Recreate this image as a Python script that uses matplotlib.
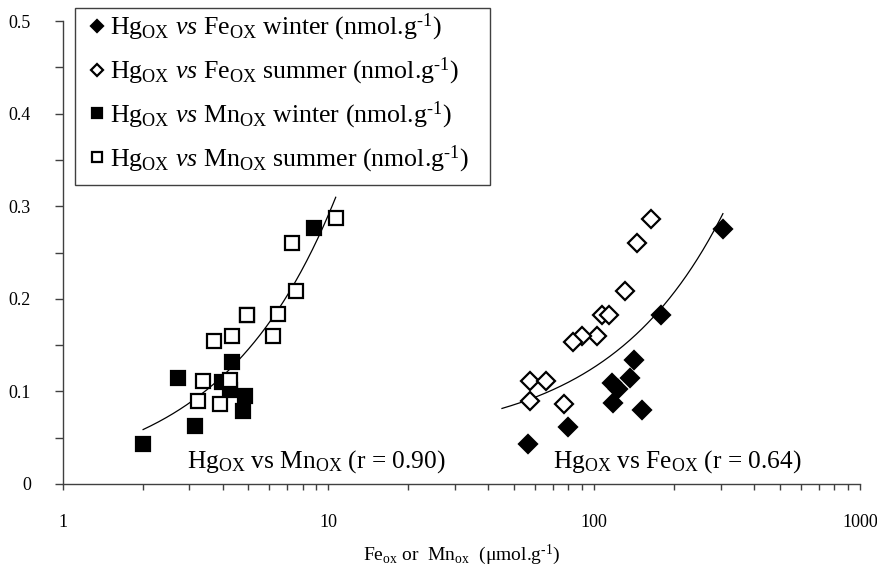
import numpy as np
import matplotlib
matplotlib.use("Agg")
import matplotlib.pyplot as plt
from matplotlib.patches import Rectangle
from matplotlib.ticker import FixedLocator, FixedFormatter, NullFormatter

plt.rcParams['font.family'] = ['Liberation Serif', 'DejaVu Serif']
plt.rcParams['mathtext.fontset'] = 'custom'
plt.rcParams['mathtext.rm'] = 'Liberation Serif'
plt.rcParams['mathtext.it'] = 'Liberation Serif:italic'
plt.rcParams['mathtext.bf'] = 'Liberation Serif:bold'

# Oxalate-extractable Fe (umol/g) and Hg (nmol/g)
fe_winter_x = [304.7, 178.5, 141.6, 136.5, 116.5, 123.0, 118.1, 151.0, 80.0, 56.6]
fe_winter_hg = [0.275, 0.182, 0.134, 0.114, 0.109, 0.103, 0.088, 0.080, 0.062, 0.043]

fe_summer_x = [163.3, 145.4, 131.1, 106.8, 114.1, 102.3, 89.8, 83.1, 57.4, 65.9, 57.4, 77.0]
fe_summer_hg = [0.286, 0.260, 0.208, 0.183, 0.183, 0.160, 0.160, 0.153, 0.111, 0.111, 0.090, 0.086]

# Oxalate-extractable Mn (umol/g) and Hg (nmol/g)
mn_winter_x = [2.01, 3.15, 2.73, 4.33, 3.97, 4.27, 4.86, 4.79, 8.86, 4.93]
mn_winter_hg = [0.043, 0.063, 0.115, 0.132, 0.110, 0.101, 0.095, 0.079, 0.276, 0.182]

mn_summer_x = [10.66, 7.28, 7.54, 6.49, 4.93, 6.21, 4.33, 3.73, 3.39, 4.27, 3.24, 3.91]
mn_summer_hg = [0.287, 0.260, 0.208, 0.184, 0.183, 0.160, 0.160, 0.154, 0.111, 0.112, 0.090, 0.086]

# Linear trend lines: (slope, intercept, x_start, x_end)
mn_trend = (0.0290, 0.0005, 2.01, 10.66)
fe_trend = (0.000809, 0.0452, 45.0, 305.0)

y_ticks = [0, 0.05, 0.1, 0.15, 0.2, 0.25, 0.3, 0.35, 0.4, 0.45, 0.5]
y_tick_labels = ['0', '', '0.1', '', '0.2', '', '0.3', '', '0.4', '', '0.5']
x_ticks = [1, 10, 100, 1000]
x_tick_labels = ['1', '10', '100', '1000']

W, H = 877, 577
fig = plt.figure(figsize=(W / 100, H / 100), dpi=100)
ax = fig.add_axes([62.5 / W, 1 - 484 / H, (860 - 62.5) / W, (484 - 21) / H])

sq = 10.5
dm = 8.8
mew = 1.6
unit = r' (nmol.g$^{\text{-1}}$)'
ax.plot(fe_winter_x, fe_winter_hg, 'D', ms=dm, mfc='black', mec='black', mew=mew, ls='none',
        label=r'Hg$_{\mathrm{OX}}$ $\mathit{vs}$ Fe$_{\mathrm{OX}}$ winter' + unit)
ax.plot(fe_summer_x, fe_summer_hg, 'D', ms=dm, mfc='white', mec='black', mew=mew, ls='none',
        label=r'Hg$_{\mathrm{OX}}$ $\mathit{vs}$ Fe$_{\mathrm{OX}}$ summer' + unit)
ax.plot(mn_winter_x, mn_winter_hg, 's', ms=sq, mfc='black', mec='black', mew=mew, ls='none',
        label=r'Hg$_{\mathrm{OX}}$ $\mathit{vs}$ Mn$_{\mathrm{OX}}$ winter' + unit)
ax.plot(mn_summer_x, mn_summer_hg, 's', ms=sq, mfc='white', mec='black', mew=mew, ls='none',
        label=r'Hg$_{\mathrm{OX}}$ $\mathit{vs}$ Mn$_{\mathrm{OX}}$ summer' + unit)

for slope, intercept, x0, x1 in (mn_trend, fe_trend):
    xs = np.geomspace(x0, x1, 200)
    ax.plot(xs, slope * xs + intercept, color='black', lw=0.9, zorder=1)

ax.set_xscale('log')
ax.set_xlim(1, 1000)
ax.set_ylim(0, 0.5)

ax.yaxis.set_major_locator(FixedLocator(y_ticks))
ax.yaxis.set_major_formatter(FixedFormatter(y_tick_labels))
ax.xaxis.set_major_locator(FixedLocator(x_ticks))
ax.xaxis.set_major_formatter(FixedFormatter(x_tick_labels))
minor = [m * 10 ** d for d in range(3) for m in range(2, 10)]
ax.xaxis.set_minor_locator(FixedLocator(minor))
ax.xaxis.set_minor_formatter(NullFormatter())

for s in ('top', 'right'):
    ax.spines[s].set_visible(False)
for s in ('left', 'bottom'):
    ax.spines[s].set_color('#404040')
    ax.spines[s].set_linewidth(1.0)

ax.tick_params(axis='y', which='major', direction='out', length=5.8, width=1.0,
               color='#404040', labelsize=13, pad=17)
ax.tick_params(axis='x', which='both', direction='out', length=4.3, width=1.0,
               color='#404040', labelsize=13, pad=17)

ax.set_xlabel(r'Fe$_{\mathrm{ox}}$ or  Mn$_{\mathrm{ox}}$  ($\mathrm{\mu}$mol.g$^{\text{-1}}$)',
              fontsize=14, labelpad=9)

ax.text(2.94, 0.024, r'Hg$_{\mathrm{OX}}$ vs Mn$_{\mathrm{OX}}$ (r = 0.90)', fontsize=18.3,
        va='center', ha='left')
ax.text(70, 0.024, r'Hg$_{\mathrm{OX}}$ vs Fe$_{\mathrm{OX}}$ (r = 0.64)', fontsize=18.3,
        va='center', ha='left')

# legend box
ax.add_patch(Rectangle((75 / W, 1 - 185 / H), (490 - 75) / W, (185 - 8) / H,
                       transform=fig.transFigure, facecolor='white', clip_on=False,
                       edgecolor='#404040', lw=1.0, zorder=5))
leg = ax.legend(loc='upper left', bbox_to_anchor=(84 / W, 1 - 12 / H),
                bbox_transform=fig.transFigure, borderaxespad=0, borderpad=0,
                fontsize=18.6, markerscale=0.7, handlelength=1.0, handletextpad=0.0,
                labelspacing=0.48, frameon=False)
leg.set_zorder(6)

fig.savefig('out.png', dpi=100)
